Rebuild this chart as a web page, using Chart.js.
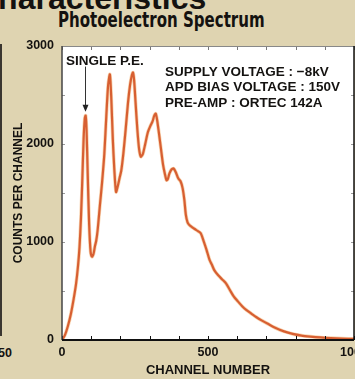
<!DOCTYPE html>
<html>
<head>
<meta charset="utf-8">
<script src="https://cdn.jsdelivr.net/npm/chart.js@4.4.1/dist/chart.umd.min.js"></script>
<style>
  html, body { margin: 0; padding: 0; }
  body {
    width: 355px; height: 379px; overflow: hidden; position: relative;
    background: #dfd4b1;
    font-family: 'Liberation Sans', Arial, sans-serif;
  }
  #chart { position: absolute; left: 0; top: 0; }
  .txt { position: absolute; white-space: nowrap; color: #141210; }
  #section { left: -25px; top: -18px; font: bold 32px/32px 'Liberation Sans', Arial, sans-serif; }
  #title {
    left: 58px; top: 10px; font: bold 21px/21px 'DejaVu Sans Condensed', 'DejaVu Sans', sans-serif;
    font-stretch: condensed; transform-origin: left top;
  }
  #stray { left: -2px; top: 347px; font: bold 12.5px/12.5px 'Liberation Sans', Arial, sans-serif; }
  #edge { position: absolute; left: 0; top: 44px; width: 2px; height: 292px; background: #3a3630; }
</style>
</head>
<body>
<div id="section" class="txt">Characteristics</div>
<div id="title" class="txt">Photoelectron Spectrum</div>
<div id="edge"></div>
<div id="stray" class="txt">50</div>
<canvas id="chart" width="355" height="379"></canvas>
<script>
// pulse height spectrum: channel number vs counts
const channels = [0, 10, 20, 30, 40, 48, 55, 60, 65, 70, 74, 78, 81, 84, 88, 93, 98, 103, 108, 113, 117, 122,
  130, 137, 145, 152, 158, 164, 169, 174, 179, 185, 191, 197, 203, 210, 218, 226, 233, 239, 243, 247, 252,
  258, 264, 270, 277, 285, 294, 302, 310, 316, 321, 326, 332, 339, 346, 352, 358, 362, 368, 375, 382, 390,
  398, 406, 413, 419, 424, 430, 437, 446, 456, 466, 475, 485, 495, 505, 513, 522, 535, 548, 561, 575, 588,
  602, 617, 632, 648, 666, 685, 705, 730, 760, 790, 820, 850, 885, 920, 960, 1000];
const counts = [0, 50, 140, 260, 420, 570, 760, 950, 1250, 1680, 2050, 2260, 2290, 2150, 1700, 1180, 900, 850, 880, 960, 1010, 1120,
  1380, 1600, 1900, 2300, 2600, 2710, 2450, 2050, 1750, 1510, 1570, 1650, 1730, 1900, 2150, 2420, 2600, 2700, 2730, 2650, 2420,
  2150, 1950, 1870, 1900, 2000, 2120, 2180, 2230, 2290, 2310, 2240, 2110, 1950, 1790, 1700, 1630, 1640, 1700, 1740, 1750, 1710,
  1650, 1620, 1550, 1430, 1280, 1200, 1170, 1150, 1130, 1110, 1090, 1010, 920, 820, 770, 710, 660, 620, 580, 510, 445,
  395, 345, 305, 270, 232, 198, 165, 125, 88, 62, 45, 35, 26, 19, 14, 12];

const xTickLabels = [0, 500, 1000];
const yTickLabels = [0, 1000, 2000, 3000];
const settings = ['SUPPLY VOLTAGE : \u22128kV', 'APD BIAS VOLTAGE : 150V', 'PRE-AMP : ORTEC 142A'];

const points = channels.map((c, i) => ({ x: c, y: counts[i] }));
const boldFont = 'bold 13.5px "Liberation Sans", Arial, sans-serif';

// white plot area, frame, inward ticks and the annotations
const framePlugin = {
  id: 'frame',
  beforeDraw(chart) {
    const { ctx, chartArea: a } = chart;
    ctx.save();
    ctx.fillStyle = '#ffffff';
    ctx.fillRect(a.left, a.top, a.right - a.left, a.bottom - a.top);
    ctx.restore();
  },
  afterDraw(chart) {
    const { ctx, chartArea: a, scales: { x, y } } = chart;
    ctx.save();
    // ticks
    ctx.lineWidth = 1;
    for (let v = 0; v <= 1000; v += 100) {
      const px = Math.round(x.getPixelForValue(v)) + 0.5;
      ctx.strokeStyle = '#111';
      ctx.beginPath(); ctx.moveTo(px, a.bottom); ctx.lineTo(px, a.bottom - 4); ctx.stroke();
      ctx.strokeStyle = '#777';
      ctx.beginPath(); ctx.moveTo(px, a.top); ctx.lineTo(px, a.top + 4); ctx.stroke();
    }
    for (let v = 0; v <= 3000; v += 500) {
      const py = Math.round(y.getPixelForValue(v)) + 0.5;
      ctx.strokeStyle = '#999';
      ctx.beginPath(); ctx.moveTo(a.left, py); ctx.lineTo(a.left + 3, py); ctx.stroke();
      ctx.beginPath(); ctx.moveTo(a.right, py); ctx.lineTo(a.right - 3, py); ctx.stroke();
    }
    // frame
    ctx.strokeStyle = '#888';
    ctx.lineWidth = 1;
    ctx.beginPath(); ctx.moveTo(a.left, a.top + 0.5); ctx.lineTo(a.right, a.top + 0.5); ctx.stroke();
    ctx.strokeStyle = '#444';
    ctx.lineWidth = 1.5;
    ctx.beginPath(); ctx.moveTo(a.left, a.top); ctx.lineTo(a.left, a.bottom); ctx.stroke();
    ctx.strokeStyle = '#111';
    ctx.beginPath(); ctx.moveTo(a.right, a.top); ctx.lineTo(a.right, a.bottom); ctx.stroke();
    ctx.lineWidth = 2;
    ctx.beginPath(); ctx.moveTo(a.left, a.bottom); ctx.lineTo(a.right, a.bottom); ctx.stroke();

    // single photoelectron marker
    ctx.fillStyle = '#141210';
    ctx.font = boldFont;
    ctx.textBaseline = 'alphabetic';
    ctx.fillText('SINGLE P.E.', x.getPixelForValue(14), y.getPixelForValue(2806));
    const ax = Math.round(x.getPixelForValue(80)) + 0.5;
    const top = y.getPixelForValue(2790);
    const tip = y.getPixelForValue(2330);
    ctx.strokeStyle = '#333';
    ctx.lineWidth = 1;
    ctx.beginPath(); ctx.moveTo(ax, top); ctx.lineTo(ax, tip - 5); ctx.stroke();
    ctx.fillStyle = '#222';
    ctx.beginPath(); ctx.moveTo(ax - 3, tip - 7); ctx.lineTo(ax + 3, tip - 7); ctx.lineTo(ax, tip); ctx.closePath(); ctx.fill();

    // operating conditions
    ctx.fillStyle = '#141210';
    settings.forEach((s, i) => {
      ctx.fillText(s, x.getPixelForValue(353), y.getPixelForValue(2693) + i * 15.3);
    });
    ctx.restore();
  }
};

const ctx = document.getElementById('chart').getContext('2d');
new Chart(ctx, {
  type: 'line',
  data: {
    datasets: [{
      data: points,
      borderColor: 'rgba(240, 160, 80, 0.45)',
      borderWidth: 3.6,
      pointRadius: 0,
      tension: 0.25
    }, {
      data: points,
      borderColor: '#c42a1a',
      borderWidth: 2.2,
      pointRadius: 0,
      tension: 0.25
    }]
  },
  options: {
    responsive: false,
    animation: false,
    events: [],
    layout: { padding: { left: 0, right: 1, top: 46, bottom: 0 }, autoPadding: false },
    plugins: { legend: { display: false }, tooltip: { enabled: false }, title: { display: false } },
    scales: {
      x: {
        type: 'linear',
        min: 0, max: 1000,
        grid: { display: false, drawTicks: false },
        border: { display: false },
        ticks: {
          stepSize: 100, autoSkip: false, maxRotation: 0, padding: 5,
          color: '#141210',
          font: { family: 'Liberation Sans', size: 12.5, weight: 'bold' },
          callback: v => xTickLabels.includes(v) ? String(v) : ''
        },
        title: {
          display: true, text: 'CHANNEL NUMBER', color: '#141210',
          font: { family: 'Liberation Sans', size: 13, weight: 'bold' },
          padding: { top: 0, bottom: 1 }
        },
        afterFit(scale) {
          scale.height = 39;
          scale.paddingLeft = 0; scale.paddingRight = 0;
        }
      },
      y: {
        min: 0, max: 3000,
        grid: { display: false, drawTicks: false },
        border: { display: false },
        ticks: {
          stepSize: 500, autoSkip: false, padding: 8,
          color: '#141210',
          font: { family: 'Liberation Sans', size: 12.5, weight: 'bold' },
          callback: v => yTickLabels.includes(v) ? String(v) : ''
        },
        title: {
          display: true, text: 'COUNTS PER CHANNEL', color: '#141210',
          font: { family: 'Liberation Sans', size: 12, weight: 'bold' },
          padding: { top: 11, bottom: 0 }
        },
        afterFit(scale) {
          scale.width = 62;
          scale.paddingTop = 0; scale.paddingBottom = 0;
        }
      }
    }
  },
  plugins: [framePlugin]
});

// squeeze the slide heading to its condensed width
const title = document.getElementById('title');
title.style.transform = 'scaleX(' + (207 / title.offsetWidth) + ')';
</script>
</body>
</html>
